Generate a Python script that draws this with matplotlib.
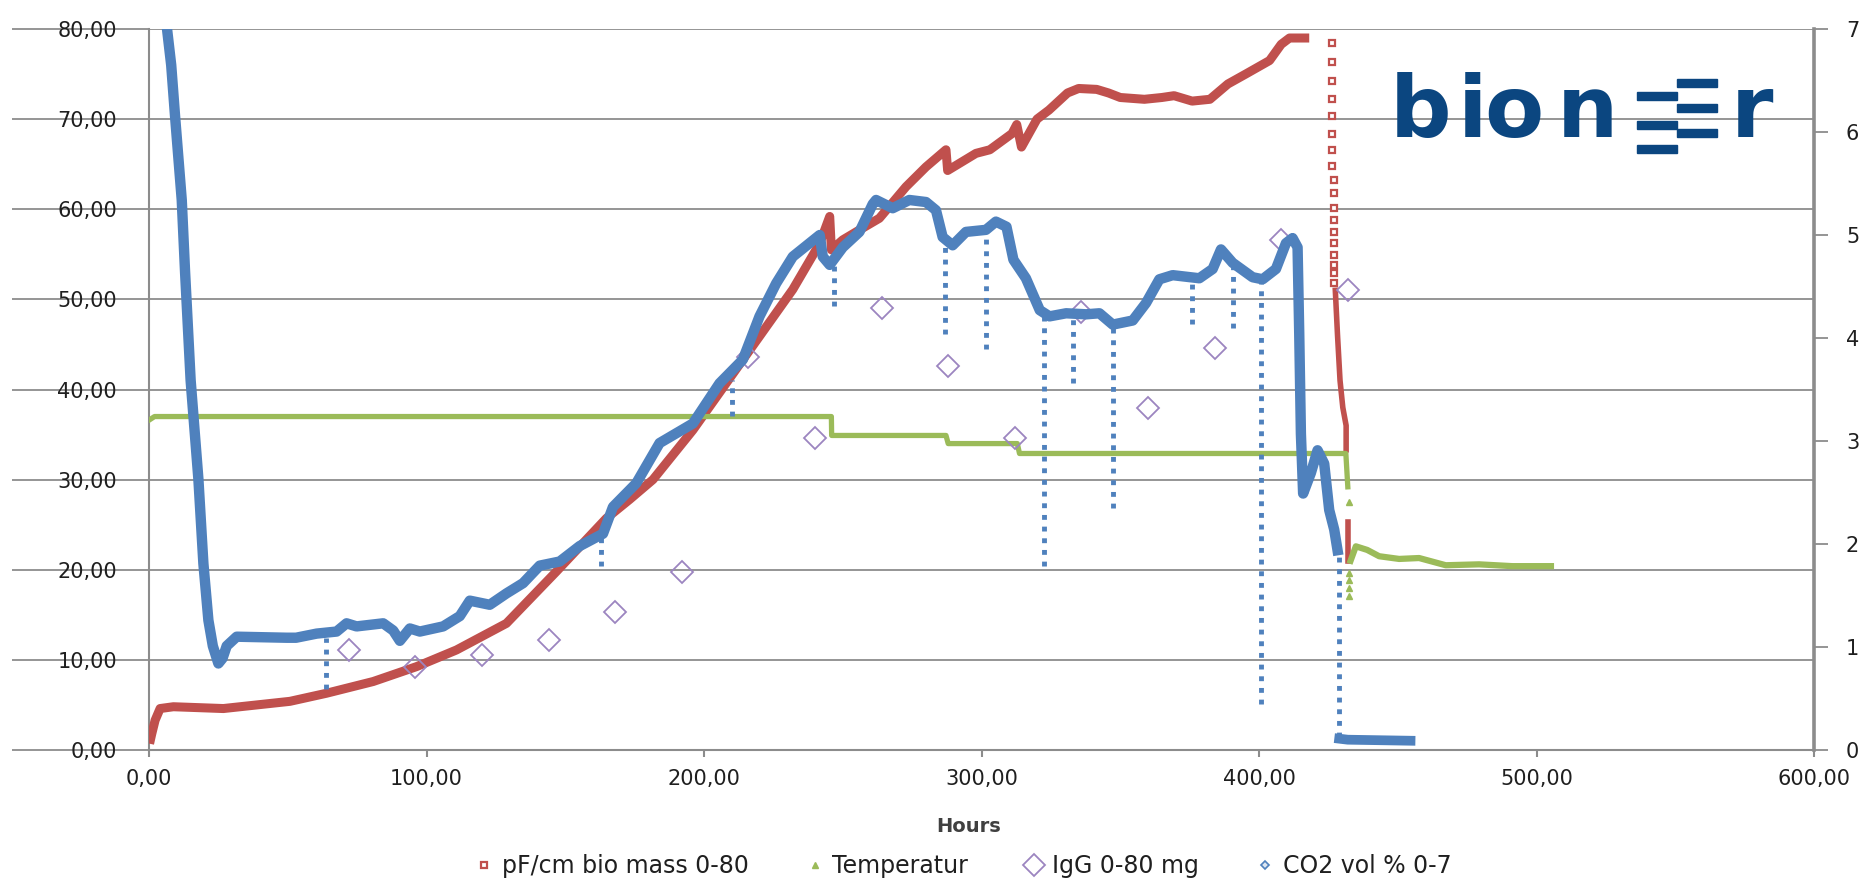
import matplotlib
matplotlib.use("Agg")
import matplotlib.pyplot as plt
from matplotlib.lines import Line2D
from matplotlib.patches import Rectangle
from matplotlib.ticker import FuncFormatter

# ---- pF/cm bio mass 0-80 (left axis) ----
bio_hours = [0.2, 1.0, 2.2, 4.0, 8.8, 26.8, 32.8, 44.8, 50.8, 64.0, 80.8, 96.4,
             110.8, 128.8, 146.8, 164.8, 173.2, 181.6, 196.0, 208.0, 220.0, 232.0,
             241.7, 245.3, 245.9, 250.0, 256.0, 263.2, 272.8, 280.0, 287.2, 287.8,
             298.0, 303.0, 311.0, 312.7, 314.4, 320.0, 324.3, 331.0, 335.0, 341.5,
             345.8, 350.0, 358.7, 365.0, 369.4, 375.9, 382.3, 388.8, 395.2, 403.8,
             408.0, 411.0, 418.1]
bio_pf = [0.7, 1.8, 3.3, 4.6, 4.8, 4.6, 4.8, 5.2, 5.4, 6.3, 7.6, 9.25,
          11.1, 14.05, 19.8, 25.7, 27.8, 30.0, 35.5, 40.7, 45.9, 51.1,
          56.2, 59.2, 55.5, 56.6, 57.7, 59.0, 62.5, 64.7, 66.6, 64.3,
          66.2, 66.6, 68.4, 69.4, 66.9, 70.0, 71.0, 72.9, 73.4, 73.3,
          72.9, 72.4, 72.2, 72.4, 72.6, 72.0, 72.2, 73.9, 75.0, 76.5,
          78.3, 79.0, 79.0]
# sparse points during the collapse
bio_drop_hours = [426.3] * 8 + [427.0] * 10
bio_drop_pf = [78.4, 76.3, 74.2, 72.2, 70.3, 68.4, 66.6, 64.8, 63.3, 61.8,
               60.1, 58.8, 57.5, 56.2, 54.9, 53.8, 52.9, 51.8]
bio_fall_hours = [427.5, 428.3, 429.2, 430.2, 431.4, 431.4]
bio_fall_pf = [51.0, 46.0, 41.0, 38.0, 36.0, 33.3]
bio_end_hours = [431.9, 431.9, 431.9]
bio_end_pf = [25.3, 22.0, 21.0]

# ---- Temperatur (left axis) ----
temp_hours = [0.0, 2.0, 245.9, 246.0, 287.2, 288.0, 312.9, 313.7, 431.3, 432.0]
temp_c = [36.6, 37.0, 37.0, 34.9, 34.9, 34.0, 34.0, 32.9, 32.9, 29.2]
temp_gap_hours = [432.5, 432.6, 432.6, 432.6, 432.6]
temp_gap_c = [27.5, 19.6, 18.9, 18.0, 17.1]
temp_tail_hours = [433.0, 434.9, 439.0, 443.3, 450.5, 457.7, 467.3, 479.3, 491.3, 505.2]
temp_tail_c = [21.0, 22.6, 22.2, 21.5, 21.2, 21.3, 20.5, 20.6, 20.4, 20.4]

# ---- IgG 0-80 mg (left axis) ----
igg_hours = [72, 96, 120, 144, 168, 192, 216, 240, 264, 288, 312, 336, 360, 384, 408, 432]
igg_mg = [11.1, 9.2, 10.5, 12.2, 15.3, 19.8, 43.6, 34.6, 49.0, 42.6, 34.6, 48.6,
          37.9, 44.6, 56.6, 51.0]

# ---- CO2 vol % 0-7 (right axis) ----
co2_hours = [6.5, 8.0, 9.4, 11.8, 13.0, 15.0, 17.8, 19.6, 21.4, 23.0, 25.0, 26.5,
             28.0, 31.6, 49.6, 53.0, 60.4, 67.6, 71.2, 74.8, 84.4, 88.0, 90.4, 94.0,
             97.6, 106.0, 112.0, 115.6, 122.8, 128.8, 134.8, 140.8, 148.0, 155.2,
             163.6, 167.2, 175.6, 184.0, 196.0, 205.6, 214.0, 220.0, 226.0, 232.0,
             241.7, 242.8, 245.3, 250.0, 256.0, 260.8, 262.0, 268.0, 274.0, 280.0,
             283.6, 286.0, 289.6, 294.4, 301.6, 305.2, 309.0, 311.5, 316.0, 321.0,
             324.5, 330.5, 337.7, 342.5, 347.3, 354.5, 359.3, 364.1, 368.9, 378.5,
             383.3, 386.3, 390.5, 397.7, 401.3, 406.1, 409.7, 412.1, 413.9, 414.5,
             415.1, 415.9, 418.7, 421.1, 423.5, 425.3, 427.1, 428.3]
co2_pct = [7.00, 6.65, 6.15, 5.34, 4.64, 3.59, 2.63, 1.81, 1.26, 1.01, 0.84, 0.89,
           1.01, 1.10, 1.09, 1.09, 1.13, 1.15, 1.23, 1.20, 1.23, 1.16, 1.06, 1.18,
           1.15, 1.20, 1.30, 1.45, 1.41, 1.52, 1.62, 1.79, 1.83, 1.98,
           2.10, 2.36, 2.59, 2.98, 3.17, 3.56, 3.79, 4.21, 4.53, 4.79,
           5.00, 4.79, 4.71, 4.88, 5.03, 5.30, 5.34, 5.26, 5.34, 5.32,
           5.24, 4.98, 4.90, 5.03, 5.05, 5.13, 5.08, 4.76, 4.58, 4.27,
           4.21, 4.24, 4.23, 4.24, 4.13, 4.17, 4.34, 4.57, 4.61, 4.58,
           4.67, 4.86, 4.73, 4.59, 4.57, 4.67, 4.92, 4.97, 4.88, 4.04,
           3.07, 2.49, 2.69, 2.91, 2.78, 2.33, 2.14, 1.94]
co2_tail_hours = [428.9, 432.0, 454.6]
co2_tail_pct = [0.11, 0.10, 0.09]
# short sensor drop-outs
dip_hours = [63.7, 163.0, 210.0, 246.8, 287.0, 301.5, 322.5, 333.0, 347.4, 376.0, 390.8, 400.7, 428.7]
dip_top = [1.09, 2.06, 3.59, 4.71, 4.94, 5.03, 4.24, 4.23, 4.13, 4.58, 4.73, 4.57, 1.93]
dip_bottom = [0.59, 1.79, 3.24, 4.31, 4.04, 3.89, 1.79, 3.56, 2.35, 4.14, 4.10, 0.45, 0.13]

red = "#C0504D"
green = "#9BBB59"
purple = "#9C85C0"
blue = "#4F81BD"
grid_c = "#8C8C8C"
txt_c = "#1F1F1F"
logo_c = "#0B4680"

W, H = 1870, 882
fig = plt.figure(figsize=(W / 100, H / 100), dpi=100)
ax = fig.add_axes([149 / W, 132 / H, 1665 / W, 721 / H])

# primary axis series
ax.plot(bio_hours, bio_pf, color=red, lw=6.5, solid_capstyle="butt", zorder=3)
ax.plot(bio_drop_hours, bio_drop_pf, ls="none", marker="s", ms=4.5, mfc="white",
        mec=red, mew=1.6, zorder=3)
ax.plot(bio_fall_hours, bio_fall_pf, color=red, lw=4, zorder=3)
ax.plot(bio_end_hours, bio_end_pf, color=red, lw=4, zorder=3)

ax.plot(temp_hours, temp_c, color=green, lw=3.8, zorder=3)
ax.plot(temp_gap_hours, temp_gap_c, ls="none", marker="^", ms=4, color=green, zorder=3)
ax.plot(temp_tail_hours, temp_tail_c, color=green, lw=4.5, zorder=3)

ax.plot(igg_hours, igg_mg, ls="none", marker="D", ms=11.5, mfc="none", mec=purple,
        mew=1.3, zorder=4)

ax.set_xlim(0, 600)
ax.set_ylim(0, 80)
ax.set_xticks(range(0, 601, 100))
ax.set_yticks(range(0, 81, 10))
fmt = FuncFormatter(lambda v, p: f"{v:.2f}".replace(".", ","))
ax.xaxis.set_major_formatter(fmt)
ax.yaxis.set_major_formatter(fmt)
ax.yaxis.grid(True, color=grid_c, lw=1.3)
ax.set_axisbelow(True)
for s in ["top", "right"]:
    ax.spines[s].set_visible(False)
for s in ["left", "bottom"]:
    ax.spines[s].set_color(grid_c)
    ax.spines[s].set_linewidth(1.5)
# gridlines run out under the labels, as in the source
ax.tick_params(axis="y", direction="out", length=98.6, width=1.3, color=grid_c,
               pad=-75.6, labelsize=15, labelcolor=txt_c)
ax.tick_params(axis="x", direction="out", length=5, width=1.5, color=grid_c,
               pad=9, labelsize=15, labelcolor=txt_c)
ax.set_xlabel("Hours", fontsize=14, fontweight="bold", color="#404040")
ax.xaxis.set_label_coords(0.492, -0.0935)
ax.xaxis.label.set_va("top")

# secondary axis: CO2
ax2 = ax.twinx()
ax2.plot(co2_hours, co2_pct, color=blue, lw=7.5, zorder=3)
ax2.plot(co2_tail_hours, co2_tail_pct, color=blue, lw=7, zorder=3)
ax2.vlines(dip_hours, dip_bottom, dip_top, colors=blue, lw=3.5,
           linestyles=[(0, (1.0, 1.4))], zorder=3)
ax2.set_ylim(0, 7)
ax2.set_yticks(range(0, 8))
for s in ["top", "left", "bottom"]:
    ax2.spines[s].set_visible(False)
ax2.spines["right"].set_color(grid_c)
ax2.spines["right"].set_linewidth(2.6)
ax2.tick_params(axis="y", direction="out", length=10, width=1.3, color=grid_c,
                pad=13, labelsize=15, labelcolor=txt_c)

# legend along the bottom edge
handles = [
    Line2D([], [], ls="none", marker="s", ms=5, mfc="white", mec=red, mew=1.6),
    Line2D([], [], ls="none", marker="^", ms=5, color=green),
    Line2D([], [], ls="none", marker="D", ms=11, mfc="none", mec=purple, mew=1.3),
    Line2D([], [], ls="none", marker="D", ms=4, mfc="#DCE6F2", mec=blue, mew=1.2),
]
labels = ["pF/cm bio mass 0-80", "Temperatur", "IgG 0-80 mg", "CO2 vol % 0-7"]
fig.legend(handles, labels, loc="center", bbox_to_anchor=(0.515, 0.018), ncol=4,
           frameon=False, fontsize=17, handlelength=0.8, handletextpad=0.35,
           columnspacing=2.4, labelcolor=txt_c, borderpad=0.1)

# bioneer logo, letter by letter
logo_letters = [("b", 1390), ("i", 1458), ("o", 1484), ("n", 1557), ("r", 1731)]
for ch, lx in logo_letters:
    fig.text(lx / W, 1 - 137 / H, ch, fontsize=62, fontweight="bold",
             color=logo_c, ha="left", va="baseline")
bars = [(1637, 92), (1637, 121), (1637, 145), (1677, 79), (1677, 104), (1677, 129)]
for bx, by in bars:
    fig.add_artist(Rectangle((bx / W, 1 - (by + 8) / H), 40 / W, 8 / H,
                             transform=fig.transFigure, color=logo_c))

fig.savefig("out.png", dpi=100)
